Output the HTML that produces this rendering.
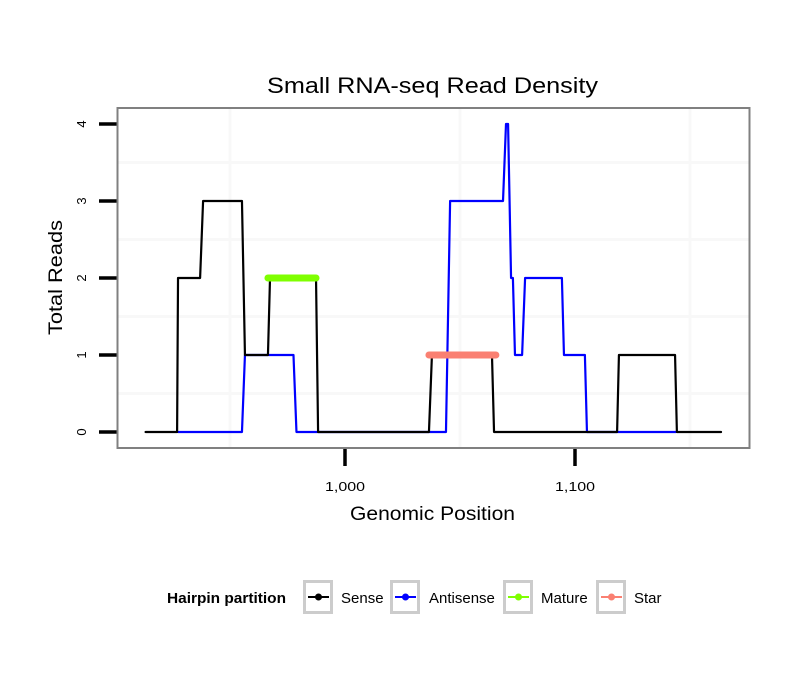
<!DOCTYPE html>
<html><head><meta charset="utf-8"><style>
body{margin:0;background:#fff;}
svg{display:block;font-family:"Liberation Sans",sans-serif;}
</style></head><body>
<svg id="chart" width="810" height="690">
<text x="267" y="93" font-size="22" textLength="331" lengthAdjust="spacingAndGlyphs">Small RNA-seq Read Density</text>
<text x="350" y="520" font-size="19" textLength="165" lengthAdjust="spacingAndGlyphs">Genomic Position</text>
<text transform="translate(62,335) rotate(-90)" font-size="19" textLength="115" lengthAdjust="spacingAndGlyphs">Total Reads</text>
<g id="grid"></g><g id="series"></g><g id="axes"></g>
<rect x="117.5" y="108" width="632" height="340" fill="none" stroke="#808080" stroke-width="2"/>
<g id="legend">
<text x="167" y="603" font-size="15" font-weight="bold" textLength="119" lengthAdjust="spacingAndGlyphs">Hairpin partition</text>
</g>
</svg>
<script>
const senseX=[913.3,927,927.4,937,938.3,955.2,956.5,966.5,967.4,987.4,988.3,1036.5,1037.8,1063.9,1064.8,1118.3,1119.1,1143.5,1144.3,1163.5];
const senseY=[0,0,2,2,3,3,1,1,2,2,0,0,1,1,0,0,1,1,0,0];
const antiX=[927.4,955.2,956.5,977.6,978.9,988.3,1043.9,1045.7,1068.7,1070,1070.9,1072.2,1073,1073.9,1077,1078.3,1094.3,1095.2,1104.3,1105.2,1143.9];
const antiY=[0,0,1,1,0,0,0,3,3,4,4,2,2,1,1,2,2,1,1,0,0];
const matureX=[966.5,987.4], matureY=[2,2];
const starX=[1036.5,1065.6], starY=[1,1];
const yTicks=[0,1,2,3,4];
const xTicks=[1000,1100];
const xTickLabels=["1,000","1,100"];
const xMinor=[950,1050,1150];
const yMinor=[0.5,1.5,2.5,3.5];
const legendLabels=["Sense","Antisense","Mature","Star"];
const legendColors=["#000000","#0000ff","#7fff00","#fa8072"];

const NS="http://www.w3.org/2000/svg";
const sx=v=>345+(v-1000)*2.3;
const sy=v=>432-v*77;
function mk(tag,attrs,parent){const e=document.createElementNS(NS,tag);for(const k in attrs)e.setAttribute(k,attrs[k]);parent.appendChild(e);return e;}
const grid=document.getElementById('grid'),ser=document.getElementById('series'),ax=document.getElementById('axes'),leg=document.getElementById('legend');
xMinor.forEach(v=>{const l=mk('line',{x1:sx(v),x2:sx(v),y1:108,y2:448,stroke:'#f8f8f8','stroke-width':3},grid);

});
yMinor.forEach(v=>{const l=mk('line',{x1:117,x2:750,y1:sy(v),y2:sy(v),stroke:'#f8f8f8','stroke-width':3},grid);

});
function line(xs,ys,color,w,name){const p=mk('polyline',{points:xs.map((x,i)=>sx(x)+','+sy(ys[i])).join(' '),fill:'none',stroke:color,'stroke-width':w,'stroke-linecap':'round','stroke-linejoin':'round'},ser);

}
line(antiX,antiY,'#0000ff',2.2,'antisense-line');
line(senseX,senseY,'#000000',2.2,'sense-line');
line(matureX,matureY,'#7fff00',7,'mature-segment');
line(starX,starY,'#fa8072',7,'star-segment');
yTicks.forEach(v=>{const t=mk('line',{x1:99,x2:117,y1:sy(v),y2:sy(v),stroke:'#000','stroke-width':3.5},ax);


const tx=mk('text',{transform:`translate(86,${sy(v)}) rotate(-90)`,'font-size':13,'text-anchor':'middle'},ax);tx.textContent=v;

});
xTicks.forEach((v,i)=>{const t=mk('line',{x1:sx(v),x2:sx(v),y1:448,y2:466,stroke:'#000','stroke-width':3.5},ax);


const tx=mk('text',{x:sx(v)-20,y:491,'font-size':13,textLength:40,lengthAdjust:'spacingAndGlyphs'},ax);tx.textContent=xTickLabels[i];

});
const keyX=[303,390,503,596],labX=[341,429,541,634];
legendLabels.forEach((lab,i)=>{const g=mk('g',{},leg);


mk('rect',{x:keyX[i]+1.5,y:581.5,width:27,height:31,fill:'#fff',stroke:'#cccccc','stroke-width':3},g);
mk('line',{x1:keyX[i]+5,x2:keyX[i]+26,y1:597,y2:597,stroke:legendColors[i],'stroke-width':2},g);
mk('circle',{cx:keyX[i]+15.5,cy:597,r:3.5,fill:legendColors[i]},g);
const t=mk('text',{x:labX[i],y:603,'font-size':15},g);t.textContent=lab;});
</script>
</body></html>
